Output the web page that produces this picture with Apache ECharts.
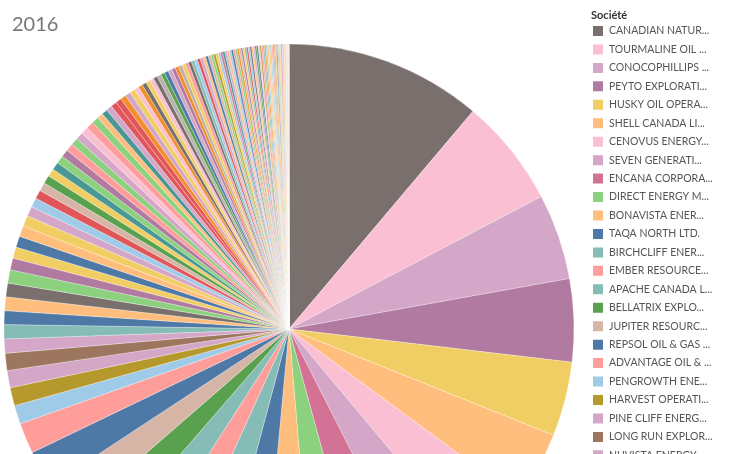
<!DOCTYPE html>
<html>
<head>
<meta charset="utf-8">
<script src="https://cdn.jsdelivr.net/npm/echarts@6/dist/echarts.min.js"></script>
<style>
  html, body { margin: 0; padding: 0; background: #fff; }
  #chart { width: 736px; height: 454px; }
</style>
</head>
<body>
<div id="chart"></div>
<script>
// noms visibles dans la légende (tronqués comme dans l'original)
const noms = [
  'CANADIAN NATUR...', 'TOURMALINE OIL ...', 'CONOCOPHILLIPS ...', 'PEYTO EXPLORATI...',
  'HUSKY OIL OPERA...', 'SHELL CANADA LI...', 'CENOVUS ENERGY...', 'SEVEN GENERATI...',
  'ENCANA CORPORA...', 'DIRECT ENERGY M...', 'BONAVISTA ENER...', 'TAQA NORTH LTD.',
  'BIRCHCLIFF ENER...', 'EMBER RESOURCE...', 'APACHE CANADA L...', 'BELLATRIX EXPLO...',
  'JUPITER RESOURC...', 'REPSOL OIL & GAS ...', 'ADVANTAGE OIL & ...', 'PENGROWTH ENE...',
  'HARVEST OPERATI...', 'PINE CLIFF ENERG...', 'LONG RUN EXPLOR...', 'NUVISTA ENERGY ...'
]

const parts = [
  40.2, 22.1, 17.5, 16.9, 15.2, 14.5, 13.7, 12.9, 11.7, 10.5,
  10.1, 9.6, 9.5, 8.3, 8.2, 8.1, 7.7, 7.6, 6.3, 3.8,
  3.7, 3.5, 3.5, 2.9, 2.9, 2.8, 2.8, 2.8, 2.7, 2.4,
  2.3, 2.3, 2.2, 2.2, 2.0, 1.9, 1.8, 1.7, 1.7, 1.6,
  1.6, 1.6, 1.55, 1.55, 1.5, 1.5, 1.5, 1.5, 1.45, 1.2,
  1.2, 1.2, 1.2, 1.2, 1.15, 1.1, 1.1,
  0.9, 0.9, 0.9, 0.85, 0.85, 0.85, 0.85, 0.8, 0.8, 0.8,
  0.75, 0.75, 0.7, 0.7, 0.7, 0.65, 0.65, 0.6, 0.6, 0.6,
  0.55, 0.55, 0.55, 0.5, 0.5, 0.5, 0.5, 0.45, 0.45, 0.45,
  0.45, 0.42, 0.42, 0.4, 0.4, 0.4, 0.38, 0.38, 0.36, 0.36,
  0.36, 0.35, 0.35, 0.34, 0.34, 0.33, 0.33, 0.32, 0.32, 0.31,
  0.31, 0.3, 0.3,
  0.29, 0.28, 0.28, 0.26, 0.25, 0.24, 0.23, 0.21, 0.21, 0.2,
  0.19, 0.17, 0.17, 0.16, 0.15, 0.14, 0.12, 0.12, 0.11, 0.1,
  0.09, 0.08, 0.07, 0.06, 0.05, 0.05, 0.03, 0.03, 0.02, 0.01
]

// palette Tableau 20
const T = {
  b: '#4E79A7', lb: '#A0CBE8', o: '#F28E2B', lo: '#FFBE7D', g: '#59A14F',
  lg: '#8CD17D', ol: '#B6992D', y: '#F1CE63', t: '#499894', lt: '#86BCB6',
  r: '#E15759', s: '#FF9D9A', gr: '#79706E', lgr: '#BAB0AC', p: '#D37295',
  lp: '#FABFD2', pu: '#B07AA1', li: '#D4A6C8', br: '#9D7660', ta: '#D7B5A6'
}

const couleurs = [
  'gr', 'lp', 'li', 'pu', 'y', 'lo', 'lp', 'li', 'p', 'lg',
  'lo', 'b', 'lt', 's', 'lt', 'g', 'ta', 'b', 's', 'lb',
  'ol', 'li', 'br', 'li', 'lt', 'b', 'lo', 'gr', 'lg', 'pu',
  'y', 'b', 'lo', 'y', 'li', 'lb', 'r', 'ta', 'g', 'y',
  't', 'lg', 'pu', 's', 'lg', 'li', 'lp', 's', 'lg', 'lo',
  't', 'li', 'r', 'r', 'o', 'li', 'y',
  'lp', 'o', 'gr', 'y', 'lp', 'gr', 'lgr', 'g', 'b', 'li',
  'pu', 'o', 'lgr', 'y', 's', 'gr', 'lt', 'lb', 'r', 'li',
  'lo', 'b', 'ta', 'lg', 'ol', 'y', 'lb', 'p', 't', 'li',
  'lo', 'lb', 'b', 's', 'lg', 'o', 'ta', 'pu', 'y', 'lt',
  'r', 'lb', 'gr', 'lo', 'li', 'g', 'b', 'lp', 'ol', 's',
  'lt', 'o', 'lb',
  'lo', 'y', 'lb', 's', 'lt', 'o', 'lo', 'b', 'ta', 'lg',
  'y', 'li', 'r', 'lb', 'o', 'lo', 's', 'lt', 'y', 'lb',
  'lo', 'p', 'o', 'ta', 'lg', 'lo', 'y', 'o', 'lo', 'r'
]

const donnees = parts.map((v, i) => ({
  name: noms[i] || ('Société ' + (i + 1)),
  value: v,
  itemStyle: { color: T[couleurs[i]] }
}))

var myChart = echarts.init(document.getElementById('chart'), null, { renderer: 'canvas' })

const option = {
  animation: false,
  title: [
    {
      text: '2016',
      left: 7, top: 10,
      textStyle: { fontFamily: 'Lato', fontSize: 20, fontWeight: 'normal', color: '#777' }
    },
    {
      text: 'Société',
      left: 586, top: 5,
      textStyle: { fontFamily: 'Lato', fontSize: 11, fontWeight: 'bold', color: '#333' }
    }
  ],
  tooltip: { trigger: 'item' },
  legend: {
    orient: 'vertical',
    left: 591,
    top: 24,
    height: 3000,
    padding: 0,
    icon: 'rect',
    itemWidth: 12,
    itemHeight: 12,
    itemGap: 4.45,
    data: noms,
    textStyle: { fontFamily: 'Lato', fontSize: 10.5, lineHeight: 12, color: '#555' }
  },
  series: [
    {
      type: 'pie',
      center: [289, 329],
      radius: 285,
      startAngle: 90,
      clockwise: true,
      label: { show: false },
      labelLine: { show: false },
      itemStyle: { borderColor: '#fff', borderWidth: 0.3 },
      emphasis: { scale: false },
      data: donnees
    }
  ]
}

option && myChart.setOption(option)
</script>
</body>
</html>
